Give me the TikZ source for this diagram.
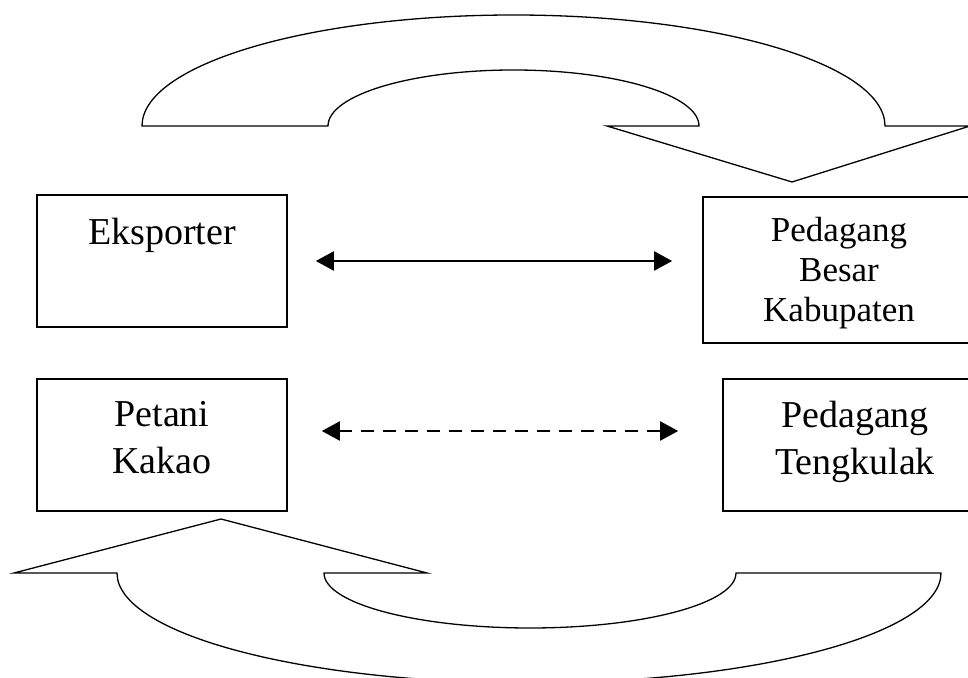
\documentclass[tikz,border=0pt]{standalone}
\usepackage{fontspec}
\setmainfont{Liberation Serif}
\usepackage{tikz}
\usetikzlibrary{arrows.meta,positioning}

\tikzset{
  kotak/.style={draw, line width=1.6pt, inner sep=0pt},
  tulisan/.style={inner sep=0pt, align=center, font=\fontsize{38}{47}\selectfont},
  panah/.style={line width=1.3pt, line join=miter}
}

\begin{document}
\begin{tikzpicture}[x=1pt, y=1pt, >={Triangle[length=18pt, width=19pt]}]
      \useasboundingbox (0, 0) rectangle (968, 677);
      \clip (0, 0) rectangle (968, 677);

      % kotak
      \node[kotak, minimum width=250pt, minimum height=132pt] (eks) at (162, 416) {};
      \node[kotak, minimum width=250pt, minimum height=132pt] (petani) at (162, 232) {};
      \node[kotak, minimum width=272pt, minimum height=146pt] (besar) at (839, 407) {};
      \node[kotak, minimum width=264pt, minimum height=132pt] (tengkulak) at (855, 232) {};

      \node[tulisan, below=24pt of eks.north] (eksT) {Eksporter};
      \node[tulisan, below=23pt of petani.north] (petaniT) {Petani\\Kakao};
      \node[tulisan, below=21pt of besar.north, font=\fontsize{35}{40}\selectfont] (besarT) {Pedagang\\Besar\\Kabupaten};
      \node[tulisan, below=23pt of tengkulak.north] (tengkulakT) {Pedagang\\Tengkulak};

      % panah lurus
      \draw[<->, line width=2pt, shorten <=28pt, shorten >=30pt] (eks.east) -- (eks.east -| besar.west);
      \draw[<->, line width=2pt, dash pattern=on 13pt off 9pt, shorten <=34pt, shorten >=44pt]
            ([yshift=14pt]petani.east) -- ([yshift=14pt]tengkulak.west);

      % panah lengkung atas
      \draw[panah] (142, 551) arc[start angle=180, end angle=0, x radius=371.5, y radius=111]
            -- (970, 551) -- (792, 495) -- (607, 551) -- (699, 551)
            arc[start angle=0, end angle=180, x radius=185.5, y radius=56] -- cycle;

      % panah lengkung bawah
      \draw[panah] (14, 104) -- (221, 158) -- (427, 104) -- (324, 104)
            arc[start angle=180, end angle=360, x radius=206, y radius=55]
            -- (941, 104) arc[start angle=0, end angle=-180, x radius=412, y radius=110] -- cycle;
    \end{tikzpicture}
\end{document}
